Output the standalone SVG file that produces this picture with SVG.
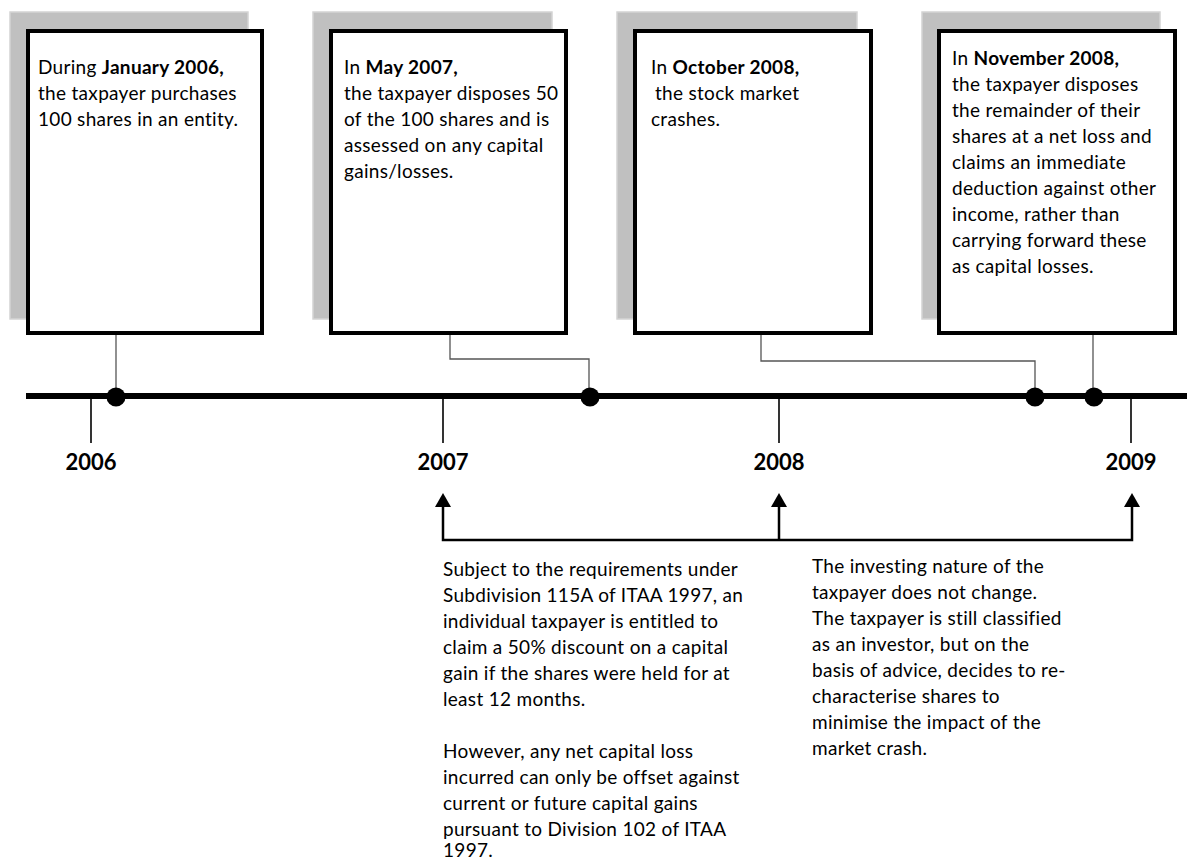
<svg xmlns="http://www.w3.org/2000/svg" width="1187" height="861" viewBox="0 0 1187 861">
<defs>
<style>
.shadow{fill:#c0c0c0;stroke:#d4d4d4;stroke-width:1.5}
.card{fill:#ffffff;stroke:#000000;stroke-width:4}
.t{font-family:Lato,"Liberation Sans",sans-serif;font-size:19px;letter-spacing:0.3px;fill:#000}
.b{font-weight:bold}
.yr{font-family:Lato,"Liberation Sans",sans-serif;font-size:22px;font-weight:bold;fill:#000;text-anchor:middle}
.thin{fill:none;stroke:#555;stroke-width:1.3}
.tick{stroke:#000;stroke-width:1.6}
.arr{fill:none;stroke:#000;stroke-width:2.5}
</style>
</defs>
<rect width="1187" height="861" fill="#fff"/>

<g id="connectors">
<line x1="26" y1="396" x2="1187" y2="396" stroke="#000" stroke-width="6"/>
<line class="tick" x1="91" y1="396" x2="91" y2="443"/>
<line class="tick" x1="443" y1="396" x2="443" y2="443"/>
<line class="tick" x1="779" y1="396" x2="779" y2="443"/>
<line class="tick" x1="1131" y1="396" x2="1131" y2="443"/>
<polyline class="thin" points="116,335 116,396"/>
<polyline class="thin" points="450,335 450,359 589,359 589,396"/>
<polyline class="thin" points="761,335 761,361 1035,361 1035,396"/>
<polyline class="thin" points="1093,335 1093,396"/>
<circle cx="116" cy="397" r="9.5" fill="#000"/>
<circle cx="590" cy="397" r="9.5" fill="#000"/>
<circle cx="1035" cy="397" r="9.5" fill="#000"/>
<circle cx="1094" cy="397" r="9.5" fill="#000"/>
<polyline class="arr" points="443,507 443,540 1132,540 1132,507"/>
<line class="arr" x1="779" y1="540" x2="779" y2="507"/>
<path d="M435,507 L443,493 L451,507 Z" fill="#000"/>
<path d="M771,507 L779,493 L787,507 Z" fill="#000"/>
<path d="M1124,507 L1132,493 L1140,507 Z" fill="#000"/>
</g>

<g id="years">
<text class="yr" x="91" y="470">2006</text>
<text class="yr" x="443" y="470">2007</text>
<text class="yr" x="779" y="470">2008</text>
<text class="yr" x="1131" y="470">2009</text>
</g>

<g id="event-2006">
<rect class="shadow" x="10" y="12" width="238" height="307"/>
<rect class="card" x="28" y="31" width="234" height="302"/>
<text class="t" x="38" y="74">During <tspan class="b">January 2006,</tspan></text>
<text class="t" x="38" y="100">the taxpayer purchases</text>
<text class="t" x="38" y="126">100 shares in an entity.</text>
</g>

<g id="event-2007">
<rect class="shadow" x="313" y="12" width="239" height="307"/>
<rect class="card" x="331" y="31" width="235" height="302"/>
<text class="t" x="344" y="74">In <tspan class="b">May 2007,</tspan></text>
<text class="t" x="344" y="100">the taxpayer disposes 50</text>
<text class="t" x="344" y="126">of the 100 shares and is</text>
<text class="t" x="344" y="152">assessed on any capital</text>
<text class="t" x="344" y="178">gains/losses.</text>
</g>

<g id="event-oct-2008">
<rect class="shadow" x="617" y="12" width="240" height="307"/>
<rect class="card" x="635" y="31" width="236" height="302"/>
<text class="t" x="651" y="74">In <tspan class="b">October 2008,</tspan></text>
<text class="t" x="655" y="100">the stock market</text>
<text class="t" x="651" y="126">crashes.</text>
</g>

<g id="event-nov-2008">
<rect class="shadow" x="922" y="12" width="238" height="307"/>
<rect class="card" x="939" y="31" width="236" height="302"/>
<text class="t" x="952" y="65">In <tspan class="b">November 2008,</tspan></text>
<text class="t" x="952" y="91">the taxpayer disposes</text>
<text class="t" x="952" y="117">the remainder of their</text>
<text class="t" x="952" y="143">shares at a net loss and</text>
<text class="t" x="952" y="169">claims an immediate</text>
<text class="t" x="952" y="195">deduction against other</text>
<text class="t" x="952" y="221">income, rather than</text>
<text class="t" x="952" y="247">carrying forward these</text>
<text class="t" x="952" y="273">as capital losses.</text>
</g>

<g id="note-2007-2008">
<text class="t" x="443" y="576">Subject to the requirements under</text>
<text class="t" x="443" y="602">Subdivision 115A of ITAA 1997, an</text>
<text class="t" x="443" y="628">individual taxpayer is entitled to</text>
<text class="t" x="443" y="654">claim a 50% discount on a capital</text>
<text class="t" x="443" y="680">gain if the shares were held for at</text>
<text class="t" x="443" y="706">least 12 months.</text>
<text class="t" x="443" y="758">However, any net capital loss</text>
<text class="t" x="443" y="784">incurred can only be offset against</text>
<text class="t" x="443" y="810">current or future capital gains</text>
<text class="t" x="443" y="836">pursuant to Division 102 of ITAA</text>
<text class="t" x="443" y="857">1997.</text>
</g>

<g id="note-2008-2009">
<text class="t" x="812" y="573">The investing nature of the</text>
<text class="t" x="812" y="599">taxpayer does not change.</text>
<text class="t" x="812" y="625">The taxpayer is still classified</text>
<text class="t" x="812" y="651">as an investor, but on the</text>
<text class="t" x="812" y="677">basis of advice, decides to re-</text>
<text class="t" x="812" y="703">characterise shares to</text>
<text class="t" x="812" y="729">minimise the impact of the</text>
<text class="t" x="812" y="755">market crash.</text>
</g>
</svg>
